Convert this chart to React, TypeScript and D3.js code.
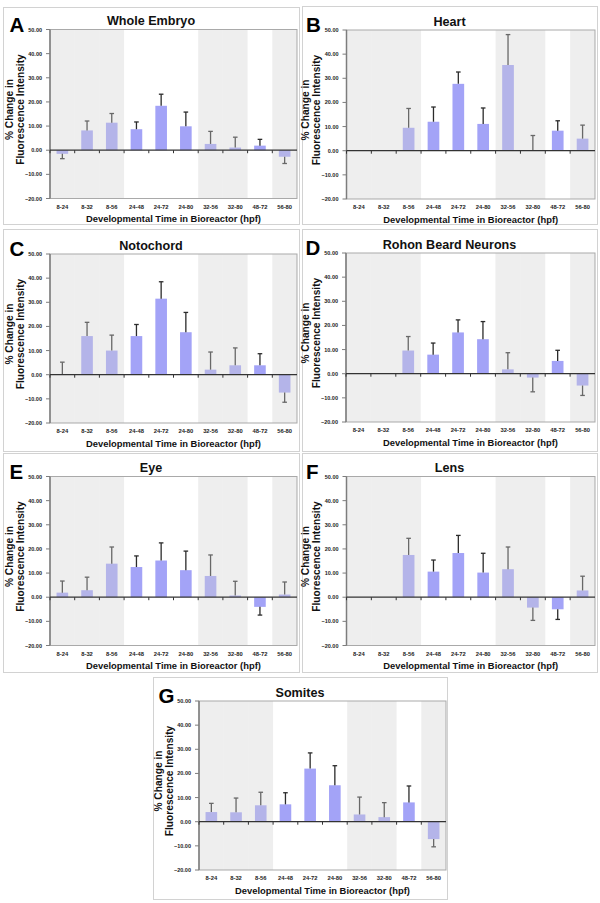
import React from 'react';
import * as d3 from 'd3';

// ---------- data ----------
const categories = ['8-24', '8-32', '8-56', '24-48', '24-72', '24-80', '32-56', '32-80', '48-72', '56-80'];
const shadedCategories = ['8-24', '8-32', '8-56', '32-56', '32-80', '56-80'];
const yTicks = [50, 40, 30, 20, 10, 0, -10, -20];
const panelLetters = ['A', 'B', 'C', 'D', 'E', 'F', 'G'];
const panelTitles = ['Whole Embryo', 'Heart', 'Notochord', 'Rohon Beard Neurons', 'Eye', 'Lens', 'Somites'];
const xAxisTitle = 'Developmental Time in Bioreactor (hpf)';
const yAxisTitle = ['% Change in', 'Fluorescence Intensity'];

const wholeEmbryoValues = [-1.5, 8.2, 11.4, 8.7, 18.4, 9.9, 2.6, 1.1, 1.9, -2.7];
const wholeEmbryoErrors = [2.0, 3.9, 3.8, 3.0, 4.8, 5.9, 5.2, 4.3, 2.6, 2.8];
const heartValues = [null, null, 9.5, 12.0, 27.7, 11.1, 35.5, 0, 8.3, 5.0];
const heartErrors = [null, null, 8.0, 6.1, 4.9, 6.6, 12.6, 6.3, 4.1, 5.6];
const notochordValues = [0.3, 16.0, 10.0, 16.0, 31.5, 17.6, 2.1, 3.9, 3.9, -7.4];
const notochordErrors = [4.9, 5.7, 6.4, 4.8, 7.0, 8.2, 7.3, 7.2, 4.8, 4.0];
const rohonBeardValues = [null, null, 9.6, 7.9, 17.1, 14.3, 1.8, -1.6, 5.3, -4.9];
const rohonBeardErrors = [null, null, 5.8, 4.8, 5.2, 7.3, 6.9, 5.9, 4.4, 4.1];
const eyeValues = [1.9, 2.9, 13.9, 12.5, 15.2, 11.2, 8.8, 0.7, -4.0, 1.1];
const eyeErrors = [4.8, 5.4, 6.9, 4.6, 7.3, 7.9, 8.7, 5.9, 3.4, 5.2];
const lensValues = [null, null, 17.5, 10.6, 18.3, 10.2, 11.6, -4.3, -5.0, 2.8];
const lensErrors = [null, null, 6.9, 4.8, 7.3, 8.0, 9.2, 5.3, 4.2, 5.9];
const somitesValues = [4.0, 3.9, 6.8, 7.2, 22.0, 15.1, 3.0, 1.9, 8.0, -7.2];
const somitesErrors = [3.6, 5.9, 5.4, 4.8, 6.5, 8.1, 7.2, 6.0, 6.8, 3.2];

const panelValues = [wholeEmbryoValues, heartValues, notochordValues, rohonBeardValues, eyeValues, lensValues, somitesValues];
const panelErrors = [wholeEmbryoErrors, heartErrors, notochordErrors, rohonBeardErrors, eyeErrors, lensErrors, somitesErrors];

// ---------- layout ----------
const layouts = [
  { cx: 3, cy: 7, cw: 296, ch: 217, pl: 50, pt: 29.5, pr: 297 },
  { cx: 302, cy: 6, cw: 295, ch: 218, pl: 346.5, pt: 30, pr: 595 },
  { cx: 3, cy: 229, cw: 296, ch: 222, pl: 50, pt: 254, pr: 297 },
  { cx: 302, cy: 229, cw: 295, ch: 222, pl: 346, pt: 253, pr: 595 },
  { cx: 3, cy: 453, cw: 296, ch: 219, pl: 50, pt: 476.5, pr: 297 },
  { cx: 302, cy: 453, cw: 295, ch: 219, pl: 346.5, pt: 476.5, pr: 595 },
  { cx: 153, cy: 677, cw: 294, ch: 222, pl: 199, pt: 701, pr: 446 },
];
const PLOT_H = 169;
const FONT = "'Liberation Sans', Arial, Helvetica, sans-serif";
const BAR_COLOR = '#a3a3f7';
const ERR_COLOR = '#2b2b2b';
const SHADE = 'rgba(210,210,210,0.37)';

function Panel({ idx }: { idx: number }) {
  const L = layouts[idx];
  const pb = L.pt + PLOT_H;
  const x = d3.scaleBand<string>().domain(categories).range([L.pl, L.pr]).padding(0);
  const y = d3.scaleLinear().domain([-20, 50]).range([pb, L.pt]);
  const bw = x.bandwidth();
  const barW = bw * 0.47;
  const values = panelValues[idx];
  const errors = panelErrors[idx];
  const cardCenter = L.cx + L.cw / 2;
  const plotCenter = (L.pl + L.pr) / 2;
  const yMid = L.pt + 80;

  return (
    <g>
      <rect x={L.cx + 0.5} y={L.cy + 0.5} width={L.cw} height={L.ch} fill="#fff" stroke="#d2d2d2" strokeWidth={1} />
      <rect x={L.pl} y={L.pt} width={L.pr - L.pl} height={PLOT_H} fill="#fff" />
      {/* bars */}
      {categories.map((c, i) => {
        const v = values[i];
        if (v === null || v === undefined) return null;
        const e = errors[i] ?? 0;
        const cxm = (x(c) as number) + bw / 2;
        const y0 = y(0);
        const yv = y(v);
        const yEnd = v >= 0 ? y(v + e) : y(v - e);
        return (
          <g key={c}>
            {v !== 0 && (
              <rect x={cxm - barW / 2} y={Math.min(y0, yv)} width={barW} height={Math.abs(yv - y0)} fill={BAR_COLOR} />
            )}
            {e > 0 && (
              <g stroke={ERR_COLOR} strokeWidth={1.3}>
                <line x1={cxm} x2={cxm} y1={yv} y2={yEnd} />
                <line x1={cxm - 2.3} x2={cxm + 2.3} y1={yEnd} y2={yEnd} />
              </g>
            )}
          </g>
        );
      })}
      {/* shaded bands */}
      {shadedCategories.map((c) => (
        <rect key={c} x={x(c)} y={L.pt} width={bw} height={PLOT_H} fill={SHADE} />
      ))}
      {/* plot border */}
      <rect x={L.pl} y={L.pt} width={L.pr - L.pl} height={PLOT_H} fill="none" stroke="#a9a9a9" strokeWidth={1} />
      {/* y axis */}
      <line x1={L.pl} x2={L.pl} y1={L.pt} y2={pb} stroke="#7d7d7d" strokeWidth={1.5} />
      {yTicks.map((t) => (
        <g key={t}>
          <line x1={L.pl - 4} x2={L.pl} y1={y(t)} y2={y(t)} stroke="#7d7d7d" strokeWidth={1} />
          <text x={L.pl - 8} y={y(t) + 2} textAnchor="end" fontFamily={FONT} fontWeight="bold" fontSize={5.5} fill="#222">
            {d3.format('.2f')(t)}
          </text>
        </g>
      ))}
      {/* zero line */}
      <line x1={L.pl} x2={L.pr} y1={y(0)} y2={y(0)} stroke="#333" strokeWidth={1.2} />
      {categories.map((c) => (
        <line key={c} x1={x(c)} x2={x(c)} y1={y(0)} y2={y(0) + 3} stroke="#333" strokeWidth={1} />
      ))}
      {/* x tick labels */}
      {categories.map((c) => (
        <text key={c} x={(x(c) as number) + bw / 2} y={pb + 10} textAnchor="middle" fontFamily={FONT} fontWeight="bold" fontSize={5.8} fill="#222">
          {c}
        </text>
      ))}
      {/* axis titles */}
      <text x={plotCenter} y={pb + 23.5} textAnchor="middle" fontFamily={FONT} fontWeight="bold" fontSize={9.4} fill="#111">
        {xAxisTitle}
      </text>
      <g transform={`translate(${L.pl - 37.5},${yMid}) rotate(-90)`}>
        <text x={0} y={0} textAnchor="middle" fontFamily={FONT} fontWeight="bold" fontSize={10.2} fill="#111">{yAxisTitle[0]}</text>
      </g>
      <g transform={`translate(${L.pl - 26.5},${yMid}) rotate(-90)`}>
        <text x={0} y={0} textAnchor="middle" fontFamily={FONT} fontWeight="bold" fontSize={10.2} fill="#111">{yAxisTitle[1]}</text>
      </g>
      {/* title + letter */}
      <text x={cardCenter} y={L.pt - 4.5} textAnchor="middle" fontFamily={FONT} fontWeight="bold" fontSize={12.6} fill="#111">
        {panelTitles[idx]}
      </text>
      <text x={L.pl - 40.5} y={L.pt + 2} fontFamily={FONT} fontWeight="bold" fontSize={20.5} fill="#000">
        {panelLetters[idx]}
      </text>
    </g>
  );
}

export default function App() {
  return (
    <svg width={600} height={903} style={{ position: 'absolute', left: 0, top: 0, background: '#fff' }}>
      <rect x={0} y={0} width={600} height={903} fill="#fff" />
      {panelLetters.map((_, i) => (
        <Panel key={i} idx={i} />
      ))}
    </svg>
  );
}
